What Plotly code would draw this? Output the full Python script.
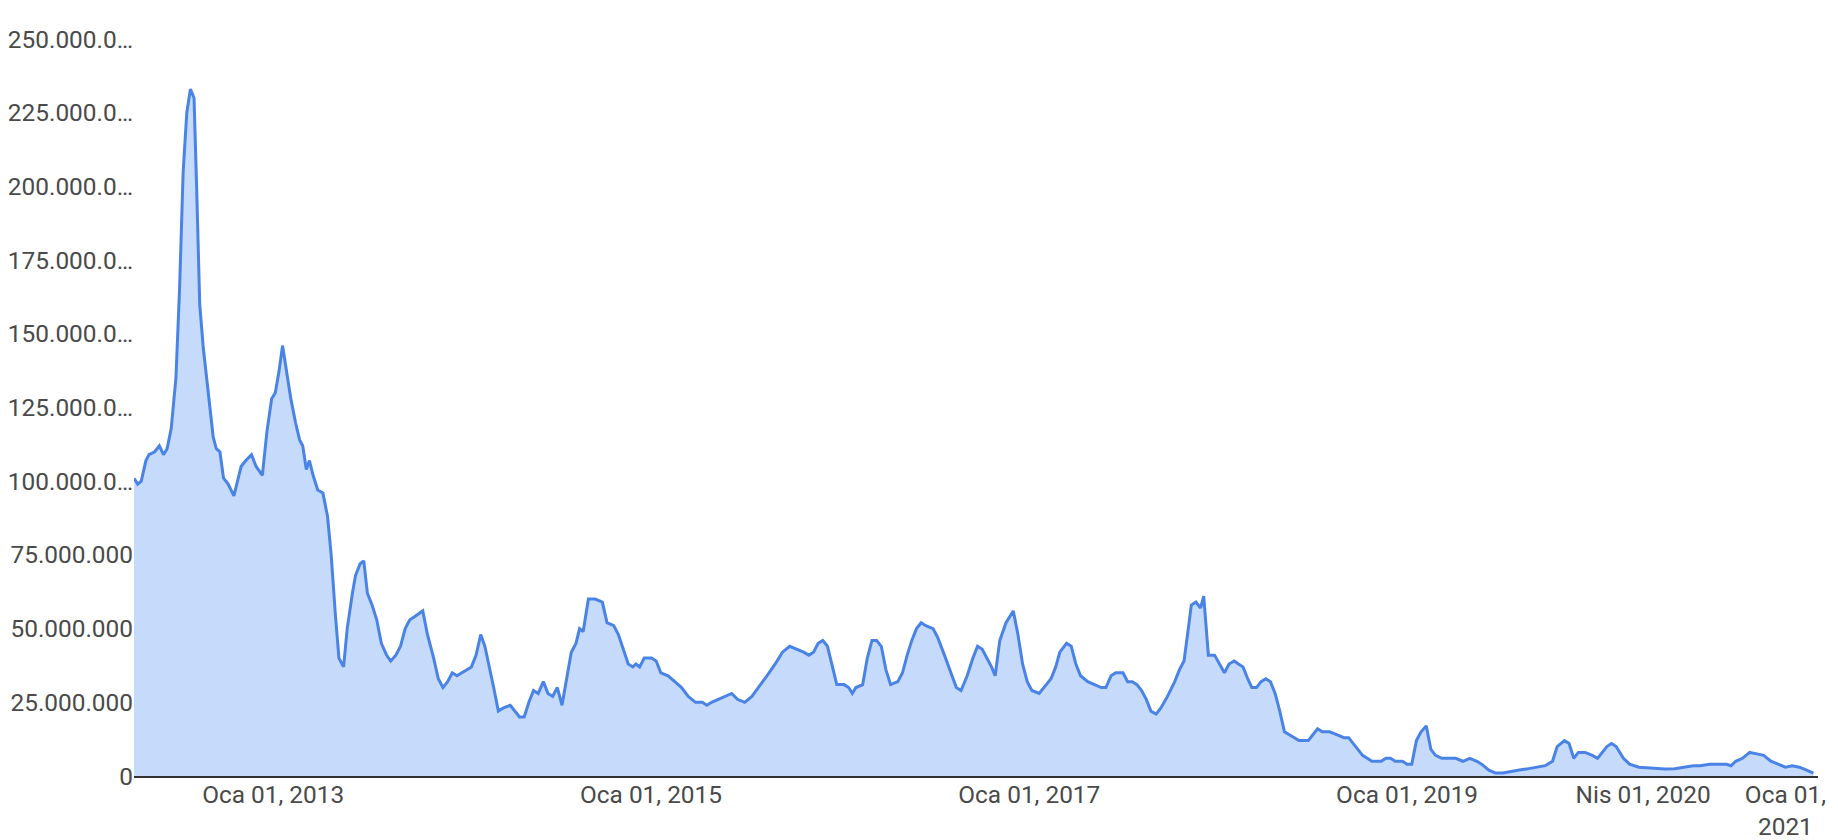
import plotly.graph_objects as go

dates = [
    "2012-04-07", "2012-04-14", "2012-04-21", "2012-04-30", "2012-05-06", "2012-05-17", "2012-05-26",
    "2012-06-03", "2012-06-10", "2012-06-18", "2012-06-27", "2012-07-04", "2012-07-11", "2012-07-18",
    "2012-07-25", "2012-08-01", "2012-08-06", "2012-08-12", "2012-08-19", "2012-08-28", "2012-09-07",
    "2012-09-13", "2012-09-20", "2012-09-27", "2012-10-06", "2012-10-17", "2012-10-24", "2012-10-31",
    "2012-11-09", "2012-11-20", "2012-11-29", "2012-12-11", "2012-12-20", "2012-12-29", "2013-01-05",
    "2013-01-12", "2013-01-19", "2013-01-26", "2013-02-04", "2013-02-13", "2013-02-21", "2013-02-27",
    "2013-03-06", "2013-03-12", "2013-03-19", "2013-03-28", "2013-04-07", "2013-04-16", "2013-04-23",
    "2013-05-01", "2013-05-08", "2013-05-17", "2013-05-24", "2013-06-03", "2013-06-09", "2013-06-18",
    "2013-06-25", "2013-07-02", "2013-07-11", "2013-07-20", "2013-07-29", "2013-08-08", "2013-08-16",
    "2013-08-26", "2013-09-04", "2013-09-13", "2013-09-22", "2013-10-01", "2013-10-10", "2013-10-17",
    "2013-10-26", "2013-11-07", "2013-11-16", "2013-11-25", "2013-12-04", "2013-12-13", "2013-12-22",
    "2013-12-31", "2014-01-10", "2014-01-19", "2014-01-28", "2014-02-06", "2014-02-14", "2014-02-23",
    "2014-03-03", "2014-03-12", "2014-03-21", "2014-04-04", "2014-04-13", "2014-04-22", "2014-05-01",
    "2014-05-10", "2014-05-19", "2014-05-28", "2014-06-07", "2014-06-16", "2014-06-25", "2014-07-04",
    "2014-07-13", "2014-07-22", "2014-07-31", "2014-08-09", "2014-08-16", "2014-08-23", "2014-09-02",
    "2014-09-15", "2014-09-29", "2014-10-08", "2014-10-21", "2014-10-30", "2014-11-08", "2014-11-18",
    "2014-11-27", "2014-12-03", "2014-12-10", "2014-12-19", "2015-01-02", "2015-01-11", "2015-01-20",
    "2015-02-03", "2015-02-16", "2015-03-01", "2015-03-14", "2015-03-28", "2015-04-10", "2015-04-19",
    "2015-04-28", "2015-05-12", "2015-05-26", "2015-06-06", "2015-06-17", "2015-07-01", "2015-07-15",
    "2015-07-28", "2015-08-13", "2015-08-29", "2015-09-12", "2015-09-26", "2015-10-10", "2015-10-23",
    "2015-11-02", "2015-11-11", "2015-11-20", "2015-11-29", "2015-12-08", "2015-12-17", "2015-12-26",
    "2016-01-09", "2016-01-18", "2016-01-25", "2016-02-01", "2016-02-14", "2016-02-23", "2016-03-03",
    "2016-03-12", "2016-03-21", "2016-03-30", "2016-04-08", "2016-04-22", "2016-05-01", "2016-05-10",
    "2016-05-19", "2016-05-28", "2016-06-06", "2016-06-15", "2016-06-29", "2016-07-08", "2016-07-21",
    "2016-08-04", "2016-08-13", "2016-08-22", "2016-09-03", "2016-09-14", "2016-09-23", "2016-10-02",
    "2016-10-11", "2016-10-20", "2016-10-27", "2016-11-05", "2016-11-17", "2016-12-01", "2016-12-10",
    "2016-12-19", "2016-12-28", "2017-01-06", "2017-01-20", "2017-01-29", "2017-02-12", "2017-02-21",
    "2017-03-01", "2017-03-14", "2017-03-23", "2017-04-01", "2017-04-10", "2017-04-24", "2017-05-07",
    "2017-05-20", "2017-05-29", "2017-06-08", "2017-06-17", "2017-07-01", "2017-07-10", "2017-07-19",
    "2017-07-28", "2017-08-06", "2017-08-15", "2017-08-24", "2017-09-03", "2017-09-12", "2017-09-25",
    "2017-10-09", "2017-10-18", "2017-10-27", "2017-11-05", "2017-11-10", "2017-11-19", "2017-11-28",
    "2017-12-04", "2017-12-13", "2017-12-25", "2018-01-04", "2018-01-13", "2018-01-22", "2018-02-01",
    "2018-02-09", "2018-02-18", "2018-02-27", "2018-03-07", "2018-03-16", "2018-03-25", "2018-04-03",
    "2018-04-12", "2018-04-21", "2018-04-30", "2018-05-09", "2018-05-18", "2018-05-27", "2018-06-06",
    "2018-06-15", "2018-06-24", "2018-07-03", "2018-07-12", "2018-07-21", "2018-08-04", "2018-08-18",
    "2018-09-01", "2018-09-10", "2018-09-19", "2018-09-28", "2018-10-07", "2018-10-16", "2018-10-25",
    "2018-11-03", "2018-11-12", "2018-11-21", "2018-11-30", "2018-12-09", "2018-12-23", "2019-01-01",
    "2019-01-10", "2019-01-19", "2019-01-28", "2019-02-07", "2019-02-16", "2019-02-25", "2019-03-09",
    "2019-03-22", "2019-04-05", "2019-04-19", "2019-05-02", "2019-05-16", "2019-05-25", "2019-06-08",
    "2019-06-21", "2019-07-05", "2019-07-18", "2019-08-06", "2019-08-24", "2019-09-12", "2019-09-25",
    "2019-10-09", "2019-10-18", "2019-11-01", "2019-11-10", "2019-11-19", "2019-11-28", "2019-12-11",
    "2019-12-25", "2020-01-04", "2020-01-13", "2020-01-22", "2020-01-31", "2020-02-09", "2020-02-23",
    "2020-03-06", "2020-03-24", "2020-04-12", "2020-04-30", "2020-05-14", "2020-06-01", "2020-06-19",
    "2020-07-07", "2020-07-20", "2020-08-08", "2020-08-26", "2020-09-09", "2020-09-18", "2020-09-27",
    "2020-10-10", "2020-10-24", "2020-11-07", "2020-11-20", "2020-12-04", "2020-12-17", "2021-01-01",
    "2021-01-14", "2021-01-28", "2021-02-11", "2021-02-24",
]

# values in millions
values_m = [
    101, 99, 100, 107, 109, 110, 112,
    109, 111, 118, 135, 165, 205, 225,
    233, 230, 200, 160, 145, 130, 115,
    111, 110, 101, 99, 95, 100, 105,
    107, 109, 105, 102, 117, 128, 130,
    137, 146, 138, 128, 120, 114, 112,
    104, 107, 102, 97, 96, 88, 75,
    55, 40, 37, 50, 62, 68, 72,
    73, 62, 58, 53, 45, 41, 39,
    41, 44, 50, 53, 54, 55, 56,
    48, 40, 33, 30, 32, 35, 34,
    35, 36, 37, 41, 48, 44, 37,
    30, 22, 23, 24, 22, 20, 20,
    25, 29, 28, 32, 28, 27, 30,
    24, 33, 42, 45, 50, 49, 60,
    60, 59, 52, 51, 48, 43, 38,
    37, 38, 37, 40, 40, 39, 35,
    34, 32, 30, 27, 25, 25, 24,
    25, 26, 27, 28, 26, 25, 27,
    30, 34, 38, 42, 44, 43, 42,
    41, 42, 45, 46, 44, 37, 31,
    31, 30, 28, 30, 31, 40, 46,
    46, 44, 36, 31, 32, 35, 41,
    46, 50, 52, 51, 50, 47, 41,
    34, 30, 29, 34, 40, 44, 43,
    40, 37, 34, 46, 52, 56, 48,
    38, 32, 29, 28, 30, 33, 37,
    42, 45, 44, 38, 34, 32, 31,
    30, 30, 34, 35, 35, 32, 32,
    31, 29, 26, 22, 21, 23, 27,
    32, 36, 39, 51, 58, 59, 57,
    61, 41, 41, 38, 35, 38, 39,
    38, 37, 33, 30, 30, 32, 33,
    32, 28, 22, 15, 14, 13, 12,
    12, 12, 14, 16, 15, 15, 14,
    13, 13, 11, 9, 7, 6, 5,
    5, 5, 6, 6, 5, 5, 4,
    4, 12, 15, 17, 9, 7, 6,
    6, 6, 5, 6, 5, 4, 2,
    1, 1, 1.5, 2, 2.5, 3, 3.5,
    5, 10, 12, 11, 6, 8, 8,
    7, 6, 8, 10, 11, 10, 6,
    4, 3, 2.8, 2.5, 2.4, 2.5, 3,
    3.5, 3.5, 4, 4, 4, 3.5, 5,
    6, 8, 7.5, 7, 5, 4, 3,
    3.5, 3, 2, 1,
]
values = [v * 1_000_000 for v in values_m]

y_tick_vals = [0, 25e6, 50e6, 75e6, 100e6, 125e6, 150e6, 175e6, 200e6, 225e6, 250e6]
y_tick_text = ["0", "25.000.000", "50.000.000", "75.000.000", "100.000.0…", "125.000.0…",
               "150.000.0…", "175.000.0…", "200.000.0…", "225.000.0…", "250.000.0…"]
x_tick_vals = ["2013-01-01", "2015-01-01", "2017-01-01", "2019-01-01", "2020-04-01", "2021-01-01"]
x_tick_text = ["Oca 01, 2013", "Oca 01, 2015", "Oca 01, 2017", "Oca 01, 2019", "Nis 01, 2020",
               "Oca 01,<br>2021"]

fig = go.Figure()
fig.add_trace(go.Scatter(
    x=dates, y=values, mode="lines",
    line=dict(color="#4a83e6", width=3),
    fill="tozeroy", fillcolor="rgba(66,133,244,0.3)",
    showlegend=False,
))

fig.update_layout(
    width=1830, height=832,
    margin=dict(l=126, r=20, t=31, b=64),
    paper_bgcolor="white", plot_bgcolor="white",
    font=dict(family="Roboto", size=24.4, color="#4a4a4a"),
    xaxis=dict(
        type="date", range=["2012-04-07", "2021-03-05"],
        tickvals=x_tick_vals, ticktext=x_tick_text, automargin=False,
        showgrid=False, zeroline=False, showline=True, linecolor="#333333", linewidth=2,
        ticks="", ticklabelstandoff=-4, tickfont=dict(size=24.4, color="#4a4a4a"),
    ),
    yaxis=dict(
        range=[0, 250e6], tickvals=y_tick_vals, ticktext=y_tick_text, automargin=False,
        showgrid=False, zeroline=False, showline=False, ticks="",
        tickfont=dict(size=24.4, color="#4a4a4a"),
    ),
)

fig.write_html("out.html")
